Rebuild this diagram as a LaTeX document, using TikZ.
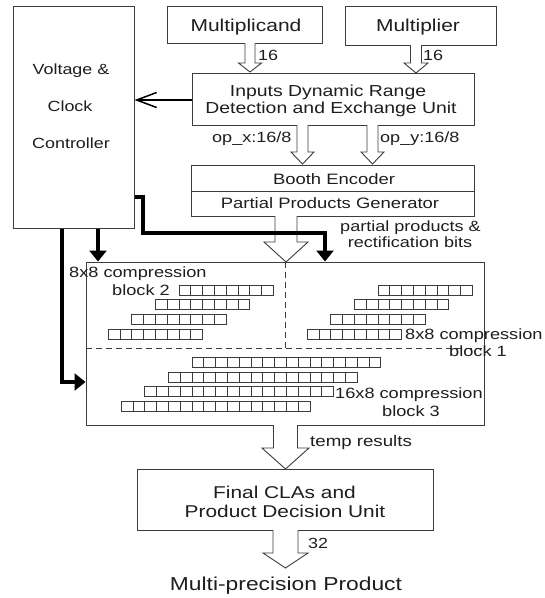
\documentclass[tikz,border=0pt]{standalone}
\usepackage{fontspec}
\setmainfont{Liberation Sans}[FakeStretch=1.22]
\usetikzlibrary{arrows.meta,calc}
\definecolor{ln}{HTML}{3C3C3C}
\definecolor{tx}{HTML}{1E1E1E}
\newcommand\fsz[1]{\fontsize{#1}{#1}\selectfont}
\newcommand\harrow[6]{\draw[hollow] (#1-#5,#2) -- (#1-#5,#3) -- (#1-#6,#3) -- (#1,#4) -- (#1+#6,#3) -- (#1+#5,#3) -- (#1+#5,#2);}
\begin{document}
\begin{tikzpicture}[x=1pt,y=-1pt,
  box/.style={draw=ln, line width=1pt, fill=white, inner sep=0pt},
  txt/.style={text=tx, inner sep=0pt, anchor=base},
  txtw/.style={text=tx, inner sep=0pt, anchor=base west},
  hollow/.style={draw=ln, line width=0.9pt, fill=white, line join=miter},
  bigline/.style={draw=black, line width=4.5pt, line join=miter, -{Triangle[length=11pt,width=17pt]}},
  cellbox/.style={draw=ln, line width=0.8pt},
  dashline/.style={draw=ln, line width=0.9pt, dash pattern=on 6pt off 4pt},
]
\useasboundingbox (0,0) rectangle (545,598);
\fill[white] (0,0) rectangle (545,598);

% boxes
\node[box, minimum width=121pt, minimum height=222pt] (vc) at (73.5,117) {};
\node[box, minimum width=155pt, minimum height=37pt] (mcand) at (244.5,24.5) {};
\node[box, minimum width=151pt, minimum height=39pt] (mplier) at (420.5,25.5) {};
\node[box, minimum width=282pt, minimum height=52pt] (inputs) at (333,99) {};
\node[box, minimum width=283pt, minimum height=51pt] (booth) at (332.5,190.5) {};
\draw[draw=ln, line width=1pt] (booth.west |- 0,191) -- (booth.east |- 0,191);
\node[box, minimum width=398pt, minimum height=163pt] (cb) at (285,343.5) {};
\node[box, minimum width=296pt, minimum height=61pt] (final) at (285,499.5) {};

% texts in boxes
\node[txt, font=\fsz{14.7}] (vc1) at (71,74) {Voltage \&};
\node[txt, font=\fsz{14.7}] (vc2) at (70,111) {Clock};
\node[txt, font=\fsz{14.7}] (vc3) at (71,148) {Controller};
\node[txt, font=\fsz{17.2}] (mcandt) at (246,31.7) {Multiplicand};
\node[txt, font=\fsz{17.2}] (mpliert) at (418,31.7) {Multiplier};
\node[txt, font=\fsz{15.9}] (in1) at (328,96.7) {Inputs Dynamic Range};
\node[txt, font=\fsz{15.9}] (in2) at (331,113) {Detection and Exchange Unit};
\node[txt, font=\fsz{15.1}] (be) at (334,184) {Booth Encoder};
\node[txt, font=\fsz{15.1}] (ppg) at (330,208.5) {Partial Products Generator};
\node[txt, font=\fsz{17.1}] (fin1) at (284.5,498) {Final CLAs and};
\node[txt, font=\fsz{17.1}] (fin2) at (285,517) {Product Decision Unit};

% hollow arrows
\harrow{250}{43}{63}{72}{5}{11.5}
\harrow{416}{45}{63}{73}{5.5}{12}
\harrow{302.5}{125}{152}{164}{5.5}{11.5}
\harrow{372.5}{125}{152}{164}{5.5}{11.5}
\harrow{286}{216}{242}{262}{11}{22}
\harrow{285.5}{425}{448}{469}{12}{23.5}
\harrow{285.5}{530}{553}{568}{12.5}{22.5}

% labels
\node[txtw, font=\fsz{14.7}] (l16a) at (258,60) {16};
\node[txtw, font=\fsz{14.7}] (l16b) at (423,60) {16};
\node[txtw, font=\fsz{14.8}] (opx) at (212,142) {op\_x:16/8};
\node[txtw, font=\fsz{14.8}] (opy) at (380,142) {op\_y:16/8};
\node[txt, font=\fsz{14.8}] (pp1) at (410.5,231) {partial products \&};
\node[txt, font=\fsz{14.8}] (pp2) at (410,247) {rectification bits};
\node[txtw, font=\fsz{15.3}] (tmp) at (310,446) {temp results};
\node[txtw, font=\fsz{14.7}] (l32) at (308,548) {32};
\node[txt, font=\fsz{18.7}] (mpp) at (286,590) {Multi-precision Product};

% thin arrow to controller
\draw[draw=black, line width=1.5pt, -{Straight Barb[length=20pt,width=15pt,line width=1.5pt]}] (inputs.west |- 0,100) -- (vc.east |- 0,100);

% thick control lines
\coordinate (c1) at (143,197);
\coordinate (c2) at (143,233);
\coordinate (c3) at (325,233);
\draw[bigline] (vc.east |- c1) -- (c1) -- (c2) -- (c3) -- (c3 |- cb.north);
\draw[bigline] (98,0 |- vc.south) -- (98,0 |- cb.north);
\coordinate (c4) at (62,382);
\draw[bigline] (c4 |- vc.south) -- (c4) -- (cb.west |- c4);

% dashed partitions
\draw[dashline] (cb.west |- 0,348) -- (cb.east |- 0,348);
\draw[dashline] (285,0 |- cb.north) -- (285,348);

% cells
\foreach \r/\x in {0/179,1/155.4,2/131.8,3/108.2}
  \foreach \i in {0,...,7}
    \draw[cellbox] (\x+\i*11.8, 285+\r*14.7) rectangle ++(11.8,10);
\foreach \r/\x in {0/378,1/354.4,2/330.8,3/307.2}
  \foreach \i in {0,...,7}
    \draw[cellbox] (\x+\i*11.8, 285+\r*14.7) rectangle ++(11.8,10);
\foreach \r/\x in {0/192,1/168.4,2/144.8,3/121.2}
  \foreach \i in {0,...,15}
    \draw[cellbox] (\x+\i*11.8, 357.3+\r*14.7) rectangle ++(11.8,10);

% compression block labels
\node[txtw, font=\fsz{14.9}] (b2a) at (69,277) {8x8 compression};
\node[txtw, font=\fsz{14.9}] (b2b) at (112,295) {block 2};
\node[txtw, font=\fsz{14.9}] (b1a) at (405,339) {8x8 compression};
\node[txtw, font=\fsz{14.9}] (b1b) at (449,356) {block 1};
\node[txtw, font=\fsz{14.9}] (b3a) at (335,398) {16x8 compression};
\node[txtw, font=\fsz{14.9}] (b3b) at (382,416) {block 3};
\end{tikzpicture}
\end{document}
